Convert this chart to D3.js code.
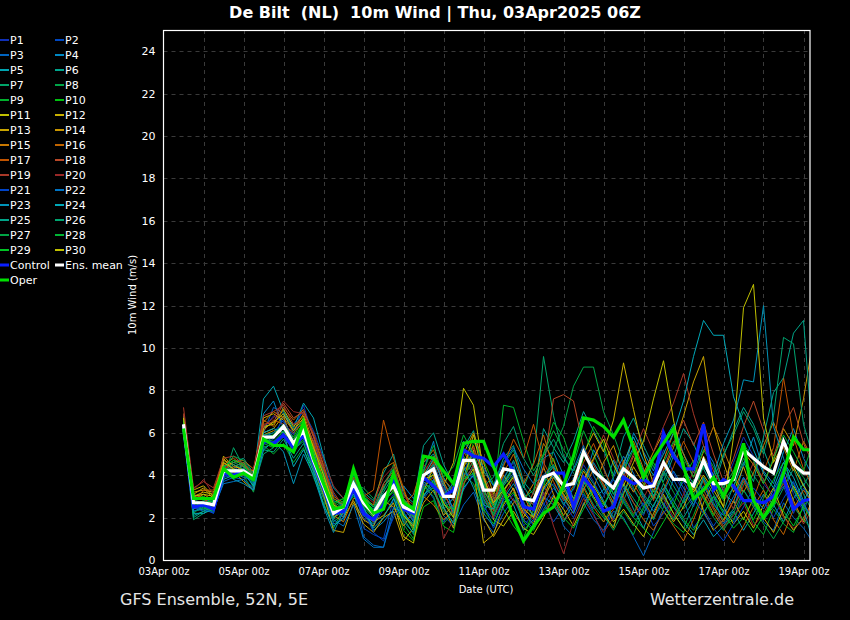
<!DOCTYPE html>
<html><head><meta charset="utf-8">
<script src="https://cdn.jsdelivr.net/npm/d3@7"></script>
<style>
html,body{margin:0;padding:0;background:#000;}
svg{display:block;}
text{font-family:"DejaVu Sans",sans-serif;}
</style></head>
<body>
<svg id="chart" width="850" height="620"></svg>
<script>
// ---------- DATA ----------
const titleText = "De Bilt  (NL)  10m Wind | Thu, 03Apr2025 06Z";
const footerLeft = "GFS Ensemble, 52N, 5E";
const footerRight = "Wetterzentrale.de";
const yLabel = "10m Wind (m/s)";
const xLabel = "Date (UTC)";
const yTicks = [0,2,4,6,8,10,12,14,16,18,20,22,24];
const xTickLabels = ["03Apr 00z","05Apr 00z","07Apr 00z","09Apr 00z","11Apr 00z","13Apr 00z","15Apr 00z","17Apr 00z","19Apr 00z"];
const runStart = Date.UTC(2025,3,3,12); // first forecast step, 6-hourly
const stepHours = 6;

const memberNames = ["P1","P2","P3","P4","P5","P6","P7","P8","P9","P10","P11","P12","P13","P14","P15","P16","P17","P18","P19","P20","P21","P22","P23","P24","P25","P26","P27","P28","P29","P30"];
const memberColors = ["#1030b8","#0048c0","#0064c0","#0088c4","#00a4b0","#00a48c","#00a468","#00a448","#00b02c","#00c010","#c0c000","#c8b000","#c8a400","#c89400","#c87800","#c06400","#c05400","#b84828","#a83828","#982828","#0044c8","#0074c4","#0094b8","#00a8b8","#00a488","#00a470","#00a444","#00b434","#00c424","#c0c000"];

const P1 =[6.5,2.6,2.5,2.4,4.0,4.4,4.1,3.7, 6.2,6.8,6.5,5.9,7.3,5.8,4.0,2.5, 2.1,3.2,2.0,1.6,2.4,3.1,1.9,2.6, 4.4,3.8,2.6,2.9,4.2,5.0,3.6,2.8, 3.9,4.6,2.3,1.8,3.1,3.6,2.9,3.3, 4.5,3.7,2.8,1.9,3.4,2.7,2.1,3.8, 5.2,4.1,3.2,2.5,3.9,2.8,3.4,4.6, 5.8,4.9,3.6,3.0,4.4,3.1,2.3,3.5];
const P2 =[6.3,2.4,2.6,2.2,3.9,4.0,4.3,3.6, 5.5,5.7,6.8,6.4,7.0,6.1,4.8,3.1, 2.4,3.9,1.5,1.2,1.0,2.9,2.3,1.4, 3.6,2.9,1.8,2.4,3.3,4.1,2.5,1.9, 2.8,3.4,1.6,2.2,2.7,1.8,2.5,3.9, 3.0,2.2,1.1,2.9,4.1,3.3,2.6,2.0, 2.7,1.9,2.8,3.7,2.4,1.6,2.3,1.8, 3.3,2.6,1.9,2.8,3.5,2.2,3.4,2.6];
const P3 =[6.2,2.5,2.3,2.3,3.7,3.9,3.8,3.4, 6.0,7.2,6.9,6.0,6.6,5.2,3.7,1.7, 1.9,3.3,1.1,0.7,0.6,2.2,2.8,1.8, 2.9,3.5,2.1,1.6,2.6,3.2,1.9,1.3, 2.2,2.9,1.9,1.5,2.4,3.1,1.6,1.1, 2.7,1.9,1.4,2.3,2.0,1.1,0.2,1.3, 2.5,3.8,2.9,1.5,2.2,3.0,1.7,2.4, 3.9,3.2,1.8,1.4,2.7,2.0,1.5,0.8];
const P4 =[6.6,2.8,2.9,2.7,4.3,4.1,3.9,3.8, 6.9,7.5,6.2,5.4,6.4,5.6,4.2,2.8, 2.6,3.1,2.5,1.4,1.8,2.4,3.5,2.9, 4.2,5.6,3.2,2.2,3.8,4.4,3.0,2.4, 3.5,4.1,3.0,2.6,4.8,5.1,4.0,2.9, 3.6,5.2,4.4,3.1,3.9,6.0,5.1,4.2, 5.6,6.4,5.0,4.1,5.4,4.6,3.2,2.7, 4.5,5.8,4.2,3.6,5.1,6.2,4.8,3.9];
const P5 =[6.8,2.3,2.4,2.6,4.5,4.0,4.6,3.9, 7.6,8.2,7.0,6.2,7.4,6.7,4.9,3.4, 2.9,3.8,2.9,2.5,3.1,3.4,2.2,1.7, 4.6,5.0,3.9,3.1,4.8,4.0,2.9,2.1, 3.1,2.6,1.4,1.9,3.0,2.6,1.8,2.7, 3.8,2.9,3.3,4.7,3.5,2.4,1.5,2.6, 3.4,2.5,1.8,1.2,1.9,1.1,1.6,2.3, 1.4,2.2,3.1,2.6,1.8,2.9,3.6,2.4];
const P6 =[6.4,2.1,2.3,2.5,4.4,4.6,4.8,4.1, 5.2,5.1,5.7,4.8,5.5,4.3,3.0,1.9, 2.7,4.2,3.2,2.8,4.1,5.0,3.1,2.7, 5.4,6.0,4.5,3.6,5.3,6.1,4.2,3.5, 4.8,5.4,3.7,3.1,6.2,5.3,4.6,5.6, 7.0,6.1,5.2,4.0,5.8,6.7,5.4,4.4, 3.7,4.9,6.2,5.5,4.3,3.4,4.9,6.1, 7.2,6.4,5.2,4.0,5.6,4.7,3.5,4.4];
const P7 =[6.0,1.9,2.2,2.5,3.8,5.3,4.4,3.4, 5.0,5.3,5.9,5.2,5.6,4.1,2.9,1.8, 2.2,4.0,3.0,2.5,3.6,4.3,2.0,1.2, 3.3,4.1,2.9,2.0,4.2,4.8,3.6,2.6, 4.5,5.2,3.4,4.6,9.6,6.8,4.9,4.1, 3.5,2.6,2.0,1.6,2.8,3.9,2.9,1.9, 3.0,2.2,1.5,2.6,3.8,2.7,1.9,2.4, 3.7,2.8,1.9,2.5,3.4,4.3,3.1,2.2];
const P8 =[6.1,2.6,2.8,2.9,4.6,4.3,4.0,3.2, 5.3,5.5,6.1,5.0,5.9,4.5,3.3,2.3, 2.8,3.5,3.4,2.9,3.3,4.5,2.8,2.5, 4.3,3.6,2.7,3.5,4.9,4.2,2.8,2.2, 3.7,4.4,2.6,2.1,3.4,5.2,6.3,8.2, 9.1,9.1,7.0,5.9,4.6,3.4,2.5,3.3, 4.1,3.2,2.4,3.0,4.5,3.6,2.8,3.4, 4.8,4.0,3.3,2.6,3.7,4.5,3.9,3.1];
const P9 =[6.5,2.2,2.6,2.8,4.1,4.7,4.5,3.6, 5.4,5.0,5.5,4.6,5.3,3.9,2.7,1.5, 2.4,3.0,2.4,1.9,2.9,3.7,1.7,1.0, 3.1,3.4,2.3,1.8,4.0,3.6,2.3,2.9, 7.3,7.2,5.6,4.2,5.0,6.5,5.8,4.4, 3.2,2.3,1.8,2.6,1.9,1.2,2.4,3.1, 2.3,1.7,1.3,2.1,3.3,2.4,1.6,1.9, 2.9,1.8,1.2,2.4,1.7,1.3,2.6,2.0];
const P10=[6.3,2.9,3.0,2.7,4.2,4.4,4.6,3.5, 5.6,5.9,6.4,5.8,6.7,5.0,3.9,2.6, 2.9,3.7,2.6,2.1,2.5,3.0,1.4,0.9, 2.5,2.8,1.6,1.3,3.4,5.6,4.7,3.6, 2.4,1.6,1.0,2.4,3.6,4.8,3.3,2.5, 4.9,6.3,5.5,3.8,2.9,2.1,3.5,4.6, 3.6,2.6,3.9,4.7,3.0,2.1,3.2,4.0, 2.8,1.9,2.9,3.8,4.6,3.4,2.5,3.3];
const P11=[6.7,3.0,3.2,3.1,4.7,4.5,4.2,4.0, 6.3,6.4,7.1,6.3,6.8,5.1,3.4,2.0, 2.3,3.4,2.2,1.8,2.1,2.7,1.1,0.8, 3.2,4.4,3.5,4.6,8.1,7.3,4.1,1.9, 1.6,2.3,1.5,1.2,2.0,3.0,2.4,1.6, 2.6,3.5,2.7,1.8,2.4,1.7,1.1,2.2, 3.1,2.2,1.5,1.0,2.7,3.6,2.5,1.7, 2.3,1.5,2.6,3.4,2.1,1.4,2.0,2.7];
const P12=[6.9,3.3,3.5,3.0,4.9,4.4,4.3,3.8, 6.7,6.9,6.6,5.7,6.2,4.9,3.8,2.6, 2.0,2.8,1.9,1.6,2.7,3.3,2.1,1.5, 3.7,4.2,2.5,1.5,3.6,4.3,0.8,1.2, 2.6,3.4,2.2,1.7,2.8,3.9,3.2,3.8, 5.0,6.0,5.1,6.6,9.3,7.1,5.0,3.6, 2.6,1.8,2.5,3.6,2.3,1.4,1.9,2.8, 1.9,2.9,2.0,1.3,2.4,3.5,2.6,1.9];
const P13=[6.6,3.1,3.4,2.9,4.8,4.2,3.7,3.3, 6.0,6.2,6.8,5.4,6.0,4.4,3.1,1.4, 1.3,2.7,1.7,1.3,2.0,2.3,0.9,1.5, 2.7,3.3,2.1,2.6,3.9,5.2,2.0,1.1, 1.9,2.7,3.1,2.0,2.9,4.2,3.6,2.9, 4.0,3.0,2.2,1.5,3.1,4.4,3.6,2.9, 4.2,5.3,6.8,8.4,9.6,6.3,4.6,3.2, 4.4,3.1,2.0,2.9,4.1,2.8,1.8,3.0];
const P14=[6.4,3.2,3.3,3.2,4.4,4.0,4.0,3.9, 5.9,6.1,6.0,5.6,6.3,5.3,4.3,2.9, 2.6,3.6,2.8,2.0,2.8,2.5,1.6,2.3, 4.0,4.7,3.7,2.8,5.0,6.0,4.6,3.1, 4.0,3.3,2.0,2.9,4.4,3.1,2.1,2.8, 4.2,3.4,4.6,5.4,4.0,3.2,4.1,5.1, 6.0,5.0,4.3,3.3,4.9,4.0,2.9,3.9, 5.1,4.5,3.6,4.7,6.2,5.4,7.6,10.5];
const P15=[6.2,2.8,3.1,2.8,4.5,4.8,4.4,4.2, 6.5,7.0,6.7,6.1,6.9,5.5,3.6,2.1, 1.8,2.9,2.9,2.6,4.3,4.6,3.3,2.0, 3.0,2.6,1.9,2.3,4.5,5.4,3.8,2.6, 3.2,4.0,2.8,3.6,5.5,4.7,3.5,2.4, 3.3,4.3,3.6,2.7,4.6,5.6,4.3,3.2, 4.7,6.0,5.0,3.9,5.1,6.3,5.2,4.0, 3.2,4.1,5.4,6.5,5.3,4.2,5.6,4.7];
const P16=[6.5,3.0,2.9,2.5,4.3,4.6,4.7,4.3, 6.6,6.3,7.2,6.6,7.1,5.9,4.5,3.0, 2.7,3.6,2.3,1.8,3.5,3.9,2.6,3.1, 4.6,5.2,3.8,3.3,5.1,4.4,3.2,2.7, 4.1,5.0,3.6,4.5,5.9,4.3,3.0,2.2, 3.4,2.5,1.8,2.4,3.6,2.7,1.9,1.4, 2.3,1.6,0.9,1.9,3.1,2.2,1.5,0.8, 1.6,2.5,3.3,1.9,1.2,2.4,3.3,2.6];
const P17=[6.3,2.7,3.3,3.3,4.6,4.1,4.5,4.0, 6.1,6.6,6.4,6.0,6.5,5.4,4.1,2.4, 2.6,3.9,3.0,3.3,6.6,4.8,3.4,2.1, 3.5,3.9,3.0,2.5,4.4,5.1,3.4,2.3, 4.4,5.7,4.8,6.4,4.6,3.7,2.8,3.5, 4.6,5.5,4.3,3.3,4.7,3.6,2.8,2.0, 3.3,4.4,5.6,4.6,3.7,2.5,1.8,2.8, 3.8,2.9,4.2,5.3,8.6,5.8,4.3,3.4];
const P18=[6.6,3.1,2.9,2.6,4.0,4.4,4.6,4.0, 6.4,6.5,7.4,6.7,7.0,5.8,4.4,2.7, 2.2,3.3,2.7,2.3,3.6,4.2,2.9,2.2, 3.8,4.6,3.3,2.1,3.9,4.7,3.8,2.9, 3.4,2.8,2.2,3.2,4.3,7.6,7.8,7.5, 5.3,4.5,3.5,2.5,3.7,4.9,3.8,2.8, 4.3,5.5,6.6,5.4,6.5,5.0,3.7,4.8, 6.3,7.5,6.1,4.9,6.3,7.2,5.5,4.5];
const P19=[7.2,3.4,3.7,3.4,4.8,4.9,4.5,4.1, 6.8,7.0,7.3,6.4,6.6,5.6,4.3,3.2, 2.5,3.2,2.6,2.1,3.0,3.8,2.4,1.9, 4.1,4.9,3.6,2.8,4.6,5.3,4.0,3.0, 3.6,4.3,3.1,2.6,3.5,2.7,1.9,2.3, 3.6,4.7,5.9,4.8,3.9,5.0,6.2,5.1, 6.3,7.4,8.8,6.9,5.4,4.2,3.3,2.4, 3.5,4.6,3.8,2.9,3.6,2.7,1.7,2.5];
const P20=[6.9,3.3,3.8,3.1,4.4,4.3,4.1,4.3, 6.3,6.7,7.5,7.0,6.9,6.0,4.7,3.5, 2.9,3.5,3.1,2.7,3.9,4.4,3.0,2.6, 4.5,4.1,1.0,1.9,3.6,4.5,3.1,2.0, 3.0,3.8,2.5,1.9,3.2,1.6,0.3,1.8, 2.9,2.1,1.3,2.0,3.0,2.2,2.9,3.9, 2.9,2.0,3.1,4.2,3.3,2.4,1.6,2.1, 2.7,1.6,2.2,3.1,2.0,1.5,1.9,2.8];
const P21=[6.4,2.5,2.4,2.2,3.9,4.2,4.0,3.6, 5.8,6.0,6.6,5.7,6.4,5.0,3.7,2.3, 2.0,3.6,2.4,1.3,0.9,2.0,2.7,1.9, 3.4,4.5,3.4,2.4,4.1,3.9,2.7,1.5, 2.5,3.1,2.4,1.6,2.6,3.4,2.7,2.0, 3.1,2.4,3.0,3.8,2.8,2.0,2.7,1.6, 2.2,2.9,3.7,2.9,2.2,1.5,0.9,1.7, 2.5,3.4,2.8,2.0,2.9,3.7,2.6,1.9];
const P22=[6.0,2.3,2.5,2.4,3.6,3.7,3.8,3.3, 5.7,5.4,6.0,5.3,5.8,4.4,3.2,1.9, 1.6,2.6,1.0,0.6,0.6,2.5,2.2,1.6, 3.0,3.6,2.8,3.7,5.6,5.0,4.4,3.5, 4.6,5.3,4.3,3.6,4.0,4.5,3.3,4.3, 5.4,4.0,3.1,3.9,4.9,4.1,3.0,2.3, 3.2,4.2,3.4,2.6,3.5,2.6,2.1,3.0, 3.9,3.0,2.4,3.3,4.2,3.6,2.7,1.8];
const P23=[6.1,2.4,2.7,2.8,4.2,3.8,3.6,3.3, 5.2,5.6,5.1,3.6,5.0,4.0,2.5,1.3, 2.3,3.1,2.1,1.7,2.6,3.6,2.5,1.8, 3.9,4.8,3.6,2.3,4.4,3.4,2.2,1.6, 2.9,3.6,2.7,2.1,3.3,4.0,2.9,2.2, 3.5,4.6,3.8,2.9,4.4,5.3,4.2,3.0, 4.0,5.1,4.3,3.6,4.8,4.0,5.5,6.6, 8.5,8.4,12.0,6.3,4.8,3.3,2.4,0.8];
const P24=[6.3,2.2,2.2,2.4,3.8,4.0,4.1,3.5, 6.0,6.2,6.0,4.4,5.2,4.2,2.6,1.6, 2.0,3.3,2.5,1.5,2.0,2.9,1.8,1.3, 3.0,3.8,2.5,1.7,3.4,4.0,2.6,2.4, 3.6,4.4,3.2,2.3,3.8,4.4,3.5,2.6, 3.9,3.2,2.5,3.5,4.5,5.8,4.7,4.0, 5.0,6.0,7.5,9.6,11.3,10.6,10.6,7.7, 6.4,5.2,4.1,3.4,4.6,3.9,2.8,3.6];
const P25=[6.2,2.0,2.3,2.6,4.0,4.5,4.3,3.7, 5.5,5.8,6.2,5.3,5.9,4.6,3.4,2.0, 2.5,3.5,2.8,2.4,3.2,4.0,2.6,2.0, 3.7,3.2,2.4,2.9,4.6,4.9,3.3,2.5, 3.8,4.7,3.5,2.7,3.9,3.5,2.6,3.4, 4.3,3.6,2.8,2.0,3.2,4.0,3.1,2.5, 3.6,2.8,2.0,2.8,3.9,3.1,2.3,3.5, 4.6,3.7,5.8,7.9,8.6,10.7,11.3,5.2];
const P26=[6.5,2.5,2.6,2.7,4.1,4.6,4.4,3.9, 5.9,6.0,6.4,5.6,6.3,4.8,3.7,2.3, 2.7,3.8,2.8,2.3,3.4,4.1,2.9,2.3, 3.9,4.5,3.1,3.6,5.2,4.5,3.5,3.9, 5.5,6.3,4.8,4.0,4.9,5.7,4.8,4.2, 5.2,4.3,3.4,2.6,3.6,2.9,2.2,3.0, 4.2,3.5,2.7,3.4,4.4,3.8,5.0,5.9, 7.0,6.2,5.0,6.8,10.5,10.2,6.4,4.8];
const P27=[6.4,2.7,2.5,2.3,4.3,4.9,4.7,4.0, 5.7,5.6,6.1,5.5,6.0,4.6,3.5,2.2, 2.5,3.3,2.5,2.0,2.8,3.2,2.0,1.7, 3.5,3.0,1.7,2.3,4.0,4.6,3.2,2.1, 3.3,4.0,3.0,2.4,3.7,4.5,3.4,2.9, 3.8,2.9,2.1,1.4,2.3,1.6,2.5,3.3, 2.6,1.9,2.8,3.8,2.9,2.0,1.4,2.2, 3.3,2.5,1.7,1.0,1.8,2.5,1.9,1.4];
const P28=[6.3,2.6,2.4,2.6,4.2,4.3,4.2,3.8, 5.5,5.3,5.8,5.2,5.7,4.5,3.5,2.5, 2.8,4.1,3.1,2.5,3.0,3.5,2.4,2.1, 4.2,5.4,3.9,4.4,5.9,5.0,3.7,2.5, 3.5,4.3,2.9,3.3,5.0,6.1,5.2,4.5, 6.1,5.0,3.9,3.1,4.2,5.2,4.1,3.4, 4.6,5.6,4.8,3.9,5.2,4.4,3.4,4.2, 5.5,4.7,3.6,4.8,5.9,5.1,4.2,5.6];
const P29=[6.6,2.8,2.7,2.8,4.4,4.7,4.5,3.9, 5.8,5.9,6.3,5.7,6.5,5.2,4.1,2.7, 2.9,3.4,2.6,2.0,2.7,3.3,2.2,1.4, 3.3,3.7,2.6,2.4,3.8,4.1,2.4,1.7, 2.7,3.2,1.8,1.4,2.3,2.9,2.0,1.5, 2.4,3.3,2.6,3.5,2.7,2.0,1.5,1.0, 1.8,2.6,1.9,1.4,2.2,3.0,2.2,1.5, 2.0,1.3,2.1,2.9,2.3,1.6,2.5,1.8];
const P30=[6.7,3.0,3.1,3.0,4.6,4.3,4.1,3.9, 6.2,6.5,6.9,6.1,6.7,5.3,4.0,2.6, 2.3,3.5,2.6,2.2,2.9,3.4,2.1,1.6, 3.8,4.0,2.7,2.0,4.3,5.9,3.9,2.7, 3.3,3.9,2.4,2.0,3.4,4.1,3.1,2.4, 3.7,4.8,5.7,4.5,3.5,4.6,5.6,7.6, 9.4,6.6,4.5,3.2,4.0,3.3,2.5,5.8, 11.9,13.0,6.7,4.6,5.5,4.4,3.5,2.8];

const control = [6.3,2.5,2.6,2.4,4.1,4.0,4.2,3.8, 5.6,5.5,5.9,5.3,5.9,4.6,3.4,2.2, 2.3,3.4,2.2,1.9,2.6,3.8,2.4,2.2, 3.9,3.5,3.0,3.3,5.2,4.9,4.8,4.4, 5.0,4.2,2.5,2.4,3.9,4.1,4.1,2.5, 3.9,3.3,2.3,2.5,3.9,3.6,3.8,3.5, 6.0,4.9,4.3,4.3,6.4,3.3,3.8,3.5, 2.8,2.8,2.7,3.0,3.9,2.4,2.8,2.9];
const oper    = [6.2,2.9,2.9,2.9,4.3,3.9,4.1,3.8, 5.7,5.4,5.4,5.1,6.5,4.8,3.6,2.4, 2.5,4.3,2.9,2.2,2.4,4.1,2.7,2.4, 4.9,4.8,4.2,3.6,5.5,5.6,5.6,4.4, 3.3,2.0,0.9,1.6,2.2,2.5,3.5,4.9, 6.7,6.6,6.3,5.8,6.6,5.3,3.9,4.8, 5.5,6.2,4.4,2.9,3.3,3.9,3.0,3.9, 5.5,2.8,2.0,2.7,4.1,5.8,5.2,5.2];
const ensMean = [6.4,2.7,2.7,2.6,4.2,4.2,4.2,3.9, 5.8,5.8,6.3,5.5,6.1,4.7,3.5,2.2, 2.5,3.6,2.7,2.2,3.0,3.5,2.5,2.3, 4.0,4.3,3.0,3.0,4.7,4.7,3.3,3.3, 4.3,4.2,2.9,2.8,3.9,4.1,3.5,3.6, 5.1,4.2,3.8,3.4,4.3,3.9,3.4,3.5, 4.6,3.8,3.8,3.5,4.7,3.6,3.6,3.8, 5.2,4.8,4.4,4.1,5.6,4.5,4.1,4.1];

const members = [P1,P2,P3,P4,P5,P6,P7,P8,P9,P10,P11,P12,P13,P14,P15,P16,P17,P18,P19,P20,P21,P22,P23,P24,P25,P26,P27,P28,P29,P30];
const specialNames = ["Control","Ens. mean","Oper"];
const specialColors = ["#0a1eff","#ffffff","#00e000"];

// ---------- CHART ----------
const svg = d3.select("#chart");
svg.append("rect").attr("width",850).attr("height",620).attr("fill","#000");

const L = 163.5, R = 810, T = 30, B = 560;
const t0 = Date.UTC(2025,3,3,0);
const x = d3.scaleUtc()
  .domain([new Date(t0), new Date(t0 + (R - L) / 40 * 86400000)])
  .range([L, R]);
const y = d3.scaleLinear().domain([0,25]).range([B,T]);

const timeAt = i => new Date(runStart + i * stepHours * 3600000);

// grid
const dayTicks = d3.range(1,17).map(d => new Date(t0 + d*86400000));
const grid = svg.append("g").attr("stroke","#3a3a3a").attr("stroke-width",1).attr("stroke-dasharray","4,4");
grid.selectAll("line.v").data(dayTicks).join("line")
  .attr("x1",d=>Math.round(x(d))+0.5).attr("x2",d=>Math.round(x(d))+0.5)
  .attr("y1",T).attr("y2",B);
grid.selectAll("line.h").data(yTicks.filter(v=>v>0)).join("line")
  .attr("x1",L).attr("x2",R)
  .attr("y1",d=>Math.round(y(d))+0.5).attr("y2",d=>Math.round(y(d))+0.5);

// clip
svg.append("clipPath").attr("id","clip").append("rect")
  .attr("x",L).attr("y",T).attr("width",R-L).attr("height",B-T);

const line = d3.line().x((d,i)=>x(timeAt(i))).y(d=>y(d));
const plot = svg.append("g").attr("clip-path","url(#clip)");

plot.selectAll("path.member").data(members).join("path")
  .attr("class","member")
  .attr("d",d=>line(d))
  .attr("fill","none")
  .attr("stroke",(d,i)=>memberColors[i])
  .attr("stroke-width",1)
  .attr("stroke-linejoin","miter");

plot.append("path").attr("d",line(control)).attr("fill","none")
  .attr("stroke",specialColors[0]).attr("stroke-width",3.2);
plot.append("path").attr("d",line(ensMean)).attr("fill","none")
  .attr("stroke",specialColors[1]).attr("stroke-width",3.2);
plot.append("path").attr("d",line(oper)).attr("fill","none")
  .attr("stroke",specialColors[2]).attr("stroke-width",3.2);

// frame
svg.append("rect").attr("x",L).attr("y",T+0.5).attr("width",R-L).attr("height",B-T)
  .attr("fill","none").attr("stroke","#ffffff").attr("stroke-width",1.2);

// y axis
const yAxis = d3.axisLeft(y).tickValues(yTicks).tickSize(0).tickPadding(8).tickFormat(d3.format("d"));
const gy = svg.append("g").attr("transform",`translate(${L},0)`).call(yAxis);
gy.select(".domain").remove();
gy.selectAll("text").attr("fill","#ffffff").style("font-size","11px").style("font-family","DejaVu Sans");

// x axis
const labelDates = xTickLabels.map((s,k)=>new Date(t0 + k*2*86400000));
const xAxis = d3.axisBottom(x).tickValues(labelDates).tickSize(0).tickPadding(8)
  .tickFormat((d,k)=>xTickLabels[k]);
const gx = svg.append("g").attr("transform",`translate(0,${B})`).call(xAxis);
gx.select(".domain").remove();
gx.selectAll("text").attr("fill","#ffffff").style("font-size","10px").style("font-family","DejaVu Sans");

// axis titles
svg.append("text").attr("x",486).attr("y",593).attr("text-anchor","middle")
  .attr("fill","#ffffff").style("font-size","10px").text(xLabel);
svg.append("text").attr("transform","translate(136,295) rotate(-90)").attr("text-anchor","middle")
  .attr("fill","#ffffff").style("font-size","10px").text(yLabel);

// title
svg.append("text").attr("x",435).attr("y",18).attr("text-anchor","middle")
  .attr("fill","#ffffff").style("font-size","16px").style("font-weight","bold")
  .style("white-space","pre").attr("xml:space","preserve").text(titleText);

// footer
svg.append("text").attr("x",120).attr("y",605).attr("fill","#e6e6e6")
  .style("font-size","16px").text(footerLeft);
svg.append("text").attr("x",794).attr("y",605).attr("text-anchor","end").attr("fill","#e6e6e6")
  .style("font-size","16px").text(footerRight);

// legend
const legendItems = memberNames.map((n,i)=>({name:n,color:memberColors[i],w:2}))
  .concat([{name:specialNames[0],color:specialColors[0],w:3},{name:specialNames[1],color:specialColors[1],w:3},{name:specialNames[2],color:specialColors[2],w:3}]);
const lg = svg.append("g");
legendItems.forEach((it,i)=>{
  const col = i % 2, row = Math.floor(i/2);
  const ly = 39 + row*15.0;
  const lx = col === 0 ? 0 : 55;
  lg.append("line").attr("x1",lx).attr("x2",lx+9).attr("y1",ly+1).attr("y2",ly+1)
    .attr("stroke",it.color).attr("stroke-width",it.w);
  lg.append("text").attr("x",lx+10).attr("y",ly+5).attr("fill","#ffffff")
    .style("font-size","11px").text(it.name);
});
</script>
</body></html>
